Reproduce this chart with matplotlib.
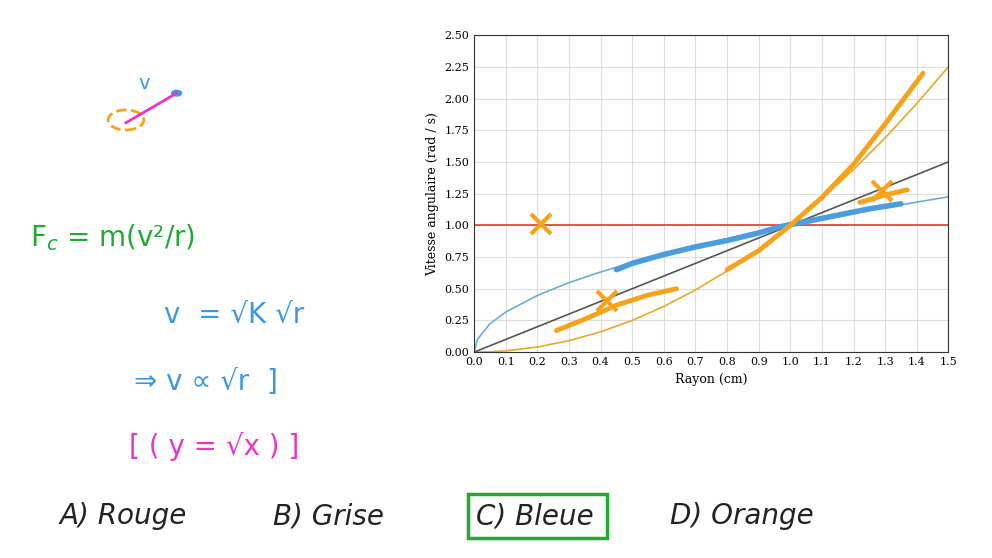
import matplotlib
matplotlib.use("Agg")
import matplotlib.pyplot as plt
from matplotlib.patches import Circle, Rectangle

# reference curves (sampled)
cx = [0, 0.01, 0.05, 0.1, 0.2, 0.3, 0.4, 0.5, 0.6, 0.7, 0.8, 0.9, 1.0, 1.1, 1.2, 1.3, 1.4, 1.5]
blue_thin = [0, 0.10, 0.224, 0.316, 0.447, 0.548, 0.632, 0.707, 0.775, 0.837, 0.894, 0.949, 1.0, 1.049, 1.095, 1.140, 1.183, 1.225]
orange_thin = [0, 0.0001, 0.0025, 0.01, 0.04, 0.09, 0.16, 0.25, 0.36, 0.49, 0.64, 0.81, 1.0, 1.21, 1.44, 1.69, 1.96, 2.25]
gray_x = [0, 1.5]
gray_y = [0, 1.5]

# hand-drawn strokes
blue_stroke_x = [0.45, 0.5, 0.6, 0.7, 0.8, 0.9, 0.97, 1.05, 1.15, 1.25, 1.35]
blue_stroke_y = [0.65, 0.70, 0.77, 0.83, 0.88, 0.94, 0.99, 1.03, 1.08, 1.13, 1.17]
or1_x = [0.26, 0.35, 0.45, 0.55, 0.64]
or1_y = [0.17, 0.26, 0.37, 0.45, 0.50]
or2_x = [0.80, 0.9, 1.0, 1.1, 1.2, 1.3, 1.42]
or2_y = [0.65, 0.80, 1.00, 1.22, 1.48, 1.80, 2.20]
or3_x = [1.22, 1.3, 1.37]
or3_y = [1.18, 1.24, 1.28]
cross_x = [0.21, 0.42, 1.29]
cross_y = [1.01, 0.40, 1.27]

fig = plt.figure(figsize=(9.92, 5.58), dpi=100)
ax = fig.add_axes([0.478, 0.369, 0.478, 0.568])
ax.plot(cx, blue_thin, color="#6aaed6", lw=1.2)
ax.plot(cx, orange_thin, color="#e8a92a", lw=1.2)
ax.plot(gray_x, gray_y, color="#555555", lw=1.2)
ax.axhline(1.0, color="#e8392a", lw=1.2)
ax.plot(blue_stroke_x, blue_stroke_y, color="#4a9ee0", lw=4, solid_capstyle="round")
for xs, ys in [(or1_x, or1_y), (or2_x, or2_y), (or3_x, or3_y)]:
    ax.plot(xs, ys, color="#f5a31a", lw=3.5, solid_capstyle="round")
ax.plot(cross_x, cross_y, "x", ms=14, mew=3, color="#f5a31a")
ax.set_xlim(0, 1.5); ax.set_ylim(0, 2.5)
ax.set_xticks([i / 10 for i in range(16)])
ax.set_xticklabels(["0.0","0.1","0.2","0.3","0.4","0.5","0.6","0.7","0.8","0.9","1.0","1.1","1.2","1.3","1.4","1.5"])
ax.set_yticks([i * 0.25 for i in range(11)])
ax.set_yticklabels([f"{i*0.25:.2f}" for i in range(11)])
ax.tick_params(labelsize=8, length=0)
for lab in ax.get_xticklabels() + ax.get_yticklabels():
    lab.set_fontfamily("DejaVu Serif")
ax.grid(color="#dddddd", lw=0.8)
ax.set_xlabel("Rayon (cm)", fontsize=9, family="DejaVu Serif")
ax.set_ylabel("Vitesse angulaire (rad / s)", fontsize=9, family="DejaVu Serif")
for s in ax.spines.values():
    s.set_color("#333333")

# annotations on figure
fig.text(0.03, 0.575, r"F$_c$ = m(v²/r)", fontsize=20, color="#22aa33", va="center")
fig.text(0.165, 0.435, "v  = √K √r", fontsize=20, color="#3a9ae0", va="center")
fig.text(0.135, 0.315, "⇒ v ∝ √r  ]", fontsize=20, color="#3a9ae0", va="center")
fig.text(0.13, 0.2, "[ ( y = √x ) ]", fontsize=20, color="#ee33cc", va="center")
fig.add_artist(Circle((0.127, 0.785), 0.018, transform=fig.transFigure, fill=False,
                      ls="--", color="#f5a31a", lw=2))
fig.add_artist(plt.Line2D([0.127, 0.178], [0.78, 0.833], transform=fig.transFigure, color="#ee33cc", lw=2))
fig.add_artist(Circle((0.178, 0.833), 0.005, transform=fig.transFigure, color="#3a9ae0"))
fig.text(0.14, 0.84, "v", fontsize=14, color="#3a9ae0")
for x, t in [(0.06, "A) Rouge"), (0.275, "B) Grise"), (0.48, "C) Bleue"), (0.675, "D) Orange")]:
    fig.text(x, 0.075, t, fontsize=20, color="#222222", va="center", style="italic")
fig.add_artist(Rectangle((0.472, 0.035), 0.14, 0.08, transform=fig.transFigure,
                         fill=False, color="#22aa33", lw=2.5))
fig.savefig("out.png", dpi=100)
